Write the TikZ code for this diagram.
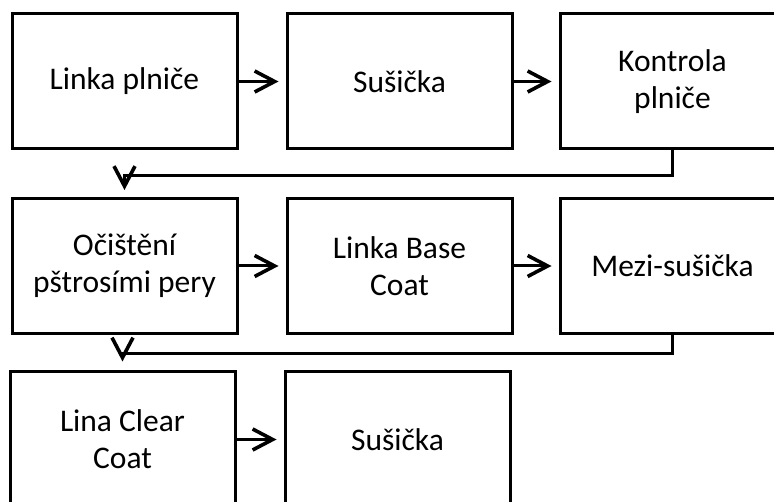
\documentclass[tikz,border=0pt]{standalone}
\usepackage{fontspec}
\setmainfont{Carlito}
\usetikzlibrary{arrows.meta}
\tikzset{
  stepbox/.style={draw=black, line width=3pt, minimum width=225pt, minimum height=135pt,
    inner sep=0pt, align=center, font=\fontsize{31.5}{37}\selectfont},
  flow/.style={line width=3pt, -{Straight Barb[length=20pt,width=21pt,line width=3.6pt]}, shorten >=7pt},
}
\begin{document}
\begin{tikzpicture}[x=1pt,y=-1pt]
\clip (0,0) rectangle (774,502);
\fill[white] (0,0) rectangle (774,502);
\node[stepbox] (b1) at (124.5,81.5) {Linka plniče};
\node[stepbox] (b2) at (399.5,81.5) {Sušička};
\node[stepbox] (b3) at (672.5,81.5) {Kontrola\\plniče};
\node[stepbox] (b4) at (124.5,266) {Očištění\\pštrosími pery};
\node[stepbox] (b5) at (399.5,266) {Linka Base\\Coat};
\node[stepbox] (b6) at (672.5,266) {Mezi-sušička};
\node[stepbox] (b7) at (122.5,439.5) {Lina Clear\\Coat};
\node[stepbox] (b8) at (397.5,439.5) {Sušička};
\draw[flow] (b1) -- (b2);
\draw[flow] (b2) -- (b3);
\draw[flow] (b3.south) -- ++(0,25) -| (b4.north);
\draw[flow] (b4) -- (b5);
\draw[flow] (b5) -- (b6);
\draw[flow, shorten >=9pt] (b6.south) -- ++(0,19) -| (b7.north);
\draw[flow] (b7) -- (b8);
\end{tikzpicture}
\end{document}
